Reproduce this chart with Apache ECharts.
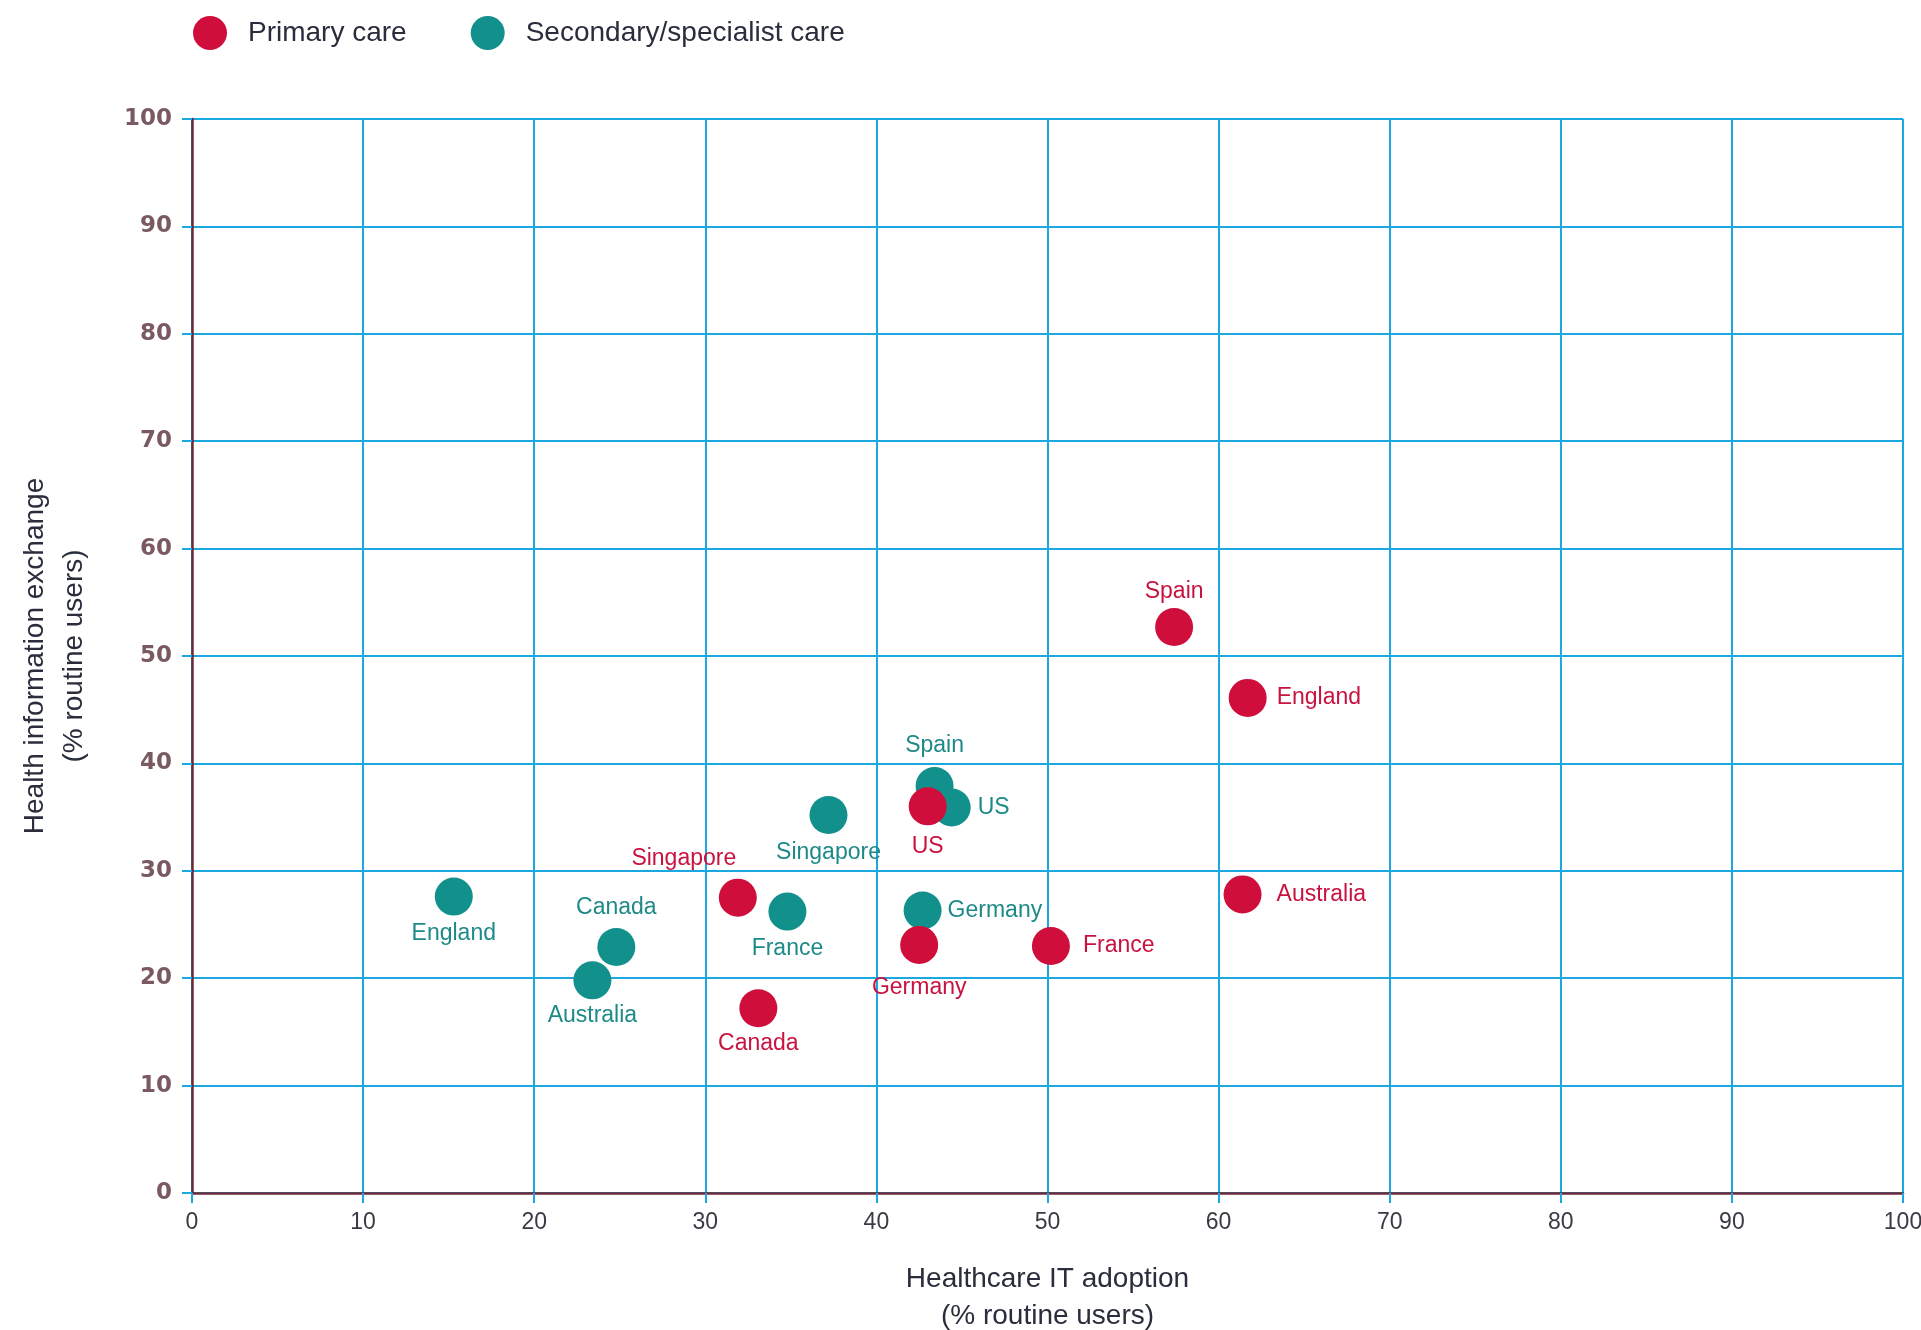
<!DOCTYPE html>
<html>
<head>
<meta charset="utf-8">
<title>Healthcare IT adoption vs health information exchange</title>
<script src="https://cdn.jsdelivr.net/npm/echarts@6/dist/echarts.min.js"></script>
<style>
  html, body { margin: 0; padding: 0; background: #fff; }
  #chartsA { width: 1921px; height: 1330px; }
</style>
</head>
<body>
<div id="chartsA"></div>
<script>
// values
const primaryCountries = ["Spain", "England", "US", "Singapore", "Australia", "Germany", "France", "Canada"];
const primaryX = [57.4, 61.7, 43.0, 31.9, 61.4, 42.5, 50.2, 33.1];
const primaryY = [52.7, 46.1, 36.0, 27.5, 27.8, 23.1, 23.0, 17.2];

const secondaryCountries = ["Spain", "US", "Singapore", "England", "France", "Germany", "Canada", "Australia"];
const secondaryX = [43.4, 44.4, 37.2, 15.3, 34.8, 42.7, 24.8, 23.4];
const secondaryY = [37.9, 35.9, 35.2, 27.6, 26.2, 26.3, 22.9, 19.8];

const axisTicks = [0, 10, 20, 30, 40, 50, 60, 70, 80, 90, 100];

// where each country label sits around its dot
const primaryLabels = {
  Spain: { position: "top", distance: 5 },
  England: { position: "right", distance: 10 },
  US: { position: "bottom", distance: 10 },
  Singapore: { position: "top", distance: 8, offset: [-54, 0] },
  Australia: { position: "right", distance: 15 },
  Germany: { position: "bottom", distance: 12 },
  France: { position: "right", distance: 13 },
  Canada: { position: "bottom", distance: 5 },
};
const secondaryLabels = {
  Spain: { position: "top", distance: 10 },
  US: { position: "right", distance: 7 },
  Singapore: { position: "bottom", distance: 7 },
  England: { position: "bottom", distance: 7 },
  France: { position: "bottom", distance: 7 },
  Germany: { position: "right", distance: 6 },
  Canada: { position: "top", distance: 9 },
  Australia: { position: "bottom", distance: 5 },
};

const RED = "#cf0e3c";
const TEAL = "#12908c";
const GRID = "#1ba8e0";
const AXIS = "#6e2a3a";
const FONT = "'Liberation Sans', Arial, sans-serif";

function buildPoints(names, xs, ys, labels) {
  return names.map((name, i) => ({
    name: name,
    value: [xs[i], ys[i]],
    label: labels[name],
  }));
}

const dom = document.getElementById("chartsA");
const myChart = echarts.init(dom, null, { renderer: "canvas" });

const option = {
  backgroundColor: "#fff",
  animation: false,
  legend: {
    data: ["Primary care", "Secondary/specialist care"],
    left: 188,
    top: 11,
    itemWidth: 34,
    itemHeight: 34,
    itemGap: 64,
    icon: "circle",
    textStyle: {
      fontFamily: FONT,
      fontSize: 28,
      color: "#2a2d3c",
      padding: [0, 0, 0, 16],
    },
  },
  grid: {
    left: 192,
    right: 18,
    top: 119,
    bottom: 137,
    outerBoundsMode: "none",
    containLabel: false,
  },
  xAxis: {
    type: "value",
    min: 0,
    max: 100,
    interval: 10,
    name: "Healthcare IT adoption\n(% routine users)",
    nameLocation: "middle",
    nameGap: 68,
    nameTextStyle: {
      fontFamily: FONT,
      fontSize: 28,
      color: "#2a2d3c",
      lineHeight: 37,
      verticalAlign: "top",
    },
    axisLine: { show: true, onZero: false, lineStyle: { color: AXIS, width: 2.5 } },
    axisTick: { show: true, length: 10, lineStyle: { color: GRID, width: 2 } },
    axisLabel: {
      margin: 18,
      fontFamily: FONT,
      fontSize: 23,
      color: "#3a3a44",
      formatter: (v) => (axisTicks.indexOf(v) >= 0 ? String(v) : ""),
    },
    splitLine: { show: true, lineStyle: { color: GRID, width: 2 } },
  },
  yAxis: {
    type: "value",
    min: 0,
    max: 100,
    interval: 10,
    name: "Health information exchange\n(% routine users)",
    nameLocation: "middle",
    nameGap: 98,
    nameRotate: 90,
    nameTextStyle: {
      fontFamily: FONT,
      fontSize: 28,
      color: "#2a2d3c",
      lineHeight: 39,
    },
    axisLine: { show: true, onZero: false, lineStyle: { color: AXIS, width: 2.5 } },
    axisTick: { show: true, length: 10, lineStyle: { color: GRID, width: 2 } },
    axisLabel: {
      margin: 20,
      fontFamily: "'DejaVu Sans', Verdana, sans-serif",
      fontWeight: "bold",
      fontSize: 23,
      color: "#7a5a60",
    },
    splitLine: { show: true, lineStyle: { color: GRID, width: 2 } },
  },
  series: [
    {
      name: "Secondary/specialist care",
      type: "scatter",
      symbol: "circle",
      symbolSize: 38,
      itemStyle: { color: TEAL, opacity: 1 },
      label: {
        show: true,
        formatter: "{b}",
        fontFamily: FONT,
        fontSize: 23,
        color: "#1d8a88",
      },
      z: 2,
      data: buildPoints(secondaryCountries, secondaryX, secondaryY, secondaryLabels),
    },
    {
      name: "Primary care",
      type: "scatter",
      symbol: "circle",
      symbolSize: 38,
      itemStyle: { color: RED, opacity: 1 },
      label: {
        show: true,
        formatter: "{b}",
        fontFamily: FONT,
        fontSize: 23,
        color: "#c8123f",
      },
      z: 3,
      data: buildPoints(primaryCountries, primaryX, primaryY, primaryLabels),
    },
  ],
};
myChart.setOption(option);
</script>
</body>
</html>
